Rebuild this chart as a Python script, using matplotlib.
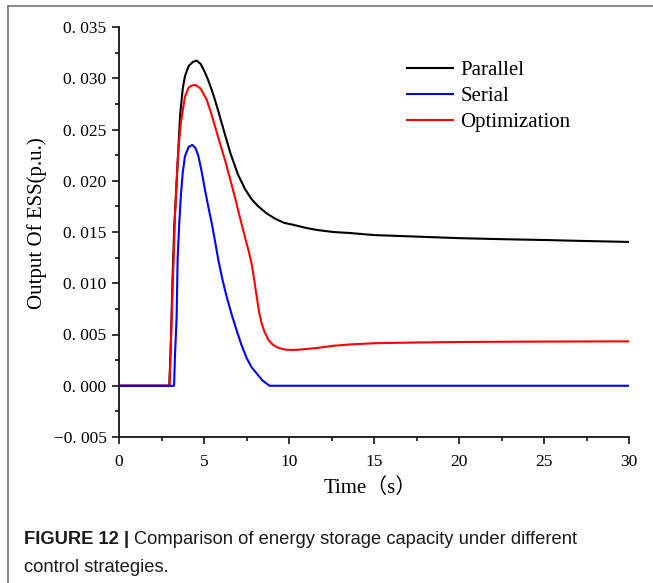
import matplotlib
matplotlib.use("Agg")
import matplotlib.pyplot as plt
from matplotlib.lines import Line2D

# Data
t_parallel = [0, 2.96, 3.05, 3.15, 3.25, 3.39, 3.59, 3.75, 3.88, 4.1, 4.35, 4.57, 4.8, 5.05,
              5.25, 5.55, 5.84, 6.2, 6.57, 7.0, 7.41, 7.8, 8.19, 8.7, 9.18, 9.7, 10.25, 11.0,
              11.63, 12.6, 13.59, 15, 17.5, 20, 22.5, 25, 27.5, 30]
v_parallel = [0, 0, 0.0042, 0.0105, 0.0155, 0.0198, 0.0263, 0.0290, 0.0302, 0.0312, 0.0316,
              0.03172, 0.0314, 0.0306, 0.0298, 0.0284, 0.0268, 0.0247, 0.0226, 0.0206, 0.0192,
              0.0182, 0.0175, 0.0168, 0.0163, 0.0159, 0.0157, 0.0154, 0.0152, 0.0150, 0.0149,
              0.0147, 0.01455, 0.0144, 0.0143, 0.01422, 0.01412, 0.01403]

t_serial = [0, 3.24, 3.29, 3.39, 3.45, 3.55, 3.65, 3.75, 3.88, 4.1, 4.31, 4.5, 4.67, 4.85, 5.06,
            5.25, 5.45, 5.65, 5.84, 6.08, 6.33, 6.62, 6.92, 7.2, 7.51, 7.8, 8.1, 8.45, 8.85, 30]
v_serial = [0, 0, 0.0028, 0.0067, 0.0125, 0.0160, 0.0188, 0.0208, 0.0224, 0.0233, 0.02349,
            0.0232, 0.0224, 0.0210, 0.0191, 0.0175, 0.0159, 0.0141, 0.0123, 0.0104, 0.0087,
            0.0070, 0.0054, 0.0040, 0.0027, 0.0018, 0.0012, 0.0005, 0, 0]

t_optim = [0, 2.96, 3.0, 3.05, 3.1, 3.2, 3.29, 3.39, 3.49, 3.65, 3.88, 4.1, 4.3, 4.51, 4.8, 5.16,
           5.4, 5.65, 5.95, 6.24, 6.53, 6.82, 7.1, 7.41, 7.65, 7.8, 7.95, 8.1, 8.25, 8.39, 8.55,
           8.78, 9.05, 9.37, 9.8, 10.25, 10.8, 11.63, 12.6, 13.59, 15.05, 17.5, 20, 22.4, 25, 30]
v_optim = [0, 0, 0.0015, 0.004, 0.0067, 0.0118, 0.0165, 0.0200, 0.0230, 0.0258, 0.0282, 0.0291,
           0.0293, 0.02934, 0.0290, 0.0279, 0.0267, 0.0253, 0.0236, 0.0220, 0.0202, 0.0184,
           0.0165, 0.0145, 0.0130, 0.0119, 0.0104, 0.0087, 0.0071, 0.0061, 0.0053, 0.0045,
           0.0040, 0.0037, 0.00352, 0.00349, 0.00355, 0.00368, 0.0039, 0.00403, 0.00415,
           0.00422, 0.00427, 0.00429, 0.00431, 0.00433]

x_ticks = [0, 5, 10, 15, 20, 25, 30]
y_ticks = [-0.005, 0.0, 0.005, 0.010, 0.015, 0.020, 0.025, 0.030, 0.035]
y_ticklabels = ["\u22120. 005", "0. 000", "0. 005", "0. 010", "0. 015", "0. 020",
                "0. 025", "0. 030", "0. 035"]
legend_names = ["Parallel", "Serial", "Optimization"]
legend_colors = ["black", "blue", "red"]

serif = ["Liberation Serif", "DejaVu Serif"]
plt.rcParams["font.family"] = serif

W, H = 653, 583
fig = plt.figure(figsize=(W / 100, H / 100), dpi=100)
ax = fig.add_axes([119 / W, 1 - 437 / H, (629 - 119) / W, (437 - 27) / H])

lw = 1.5
ax.plot(t_parallel, v_parallel, color="black", lw=lw, zorder=2)
ax.plot(t_optim, v_optim, color="red", lw=lw, zorder=3)
ax.plot(t_serial, v_serial, color="blue", lw=lw, zorder=4)

ax.set_xlim(0, 30)
ax.set_ylim(-0.005, 0.035)
ax.set_xticks(x_ticks)
ax.set_xticks([2.5 + 5 * i for i in range(6)], minor=True)
ax.set_yticks(y_ticks)
ax.set_yticklabels(y_ticklabels)
ax.set_yticks([-0.0025 + 0.005 * i for i in range(8)], minor=True)
ax.tick_params(which="major", direction="out", length=5, width=1.1, labelsize=12.5, pad=4)
ax.tick_params(axis="x", which="major", pad=7)
ax.tick_params(which="minor", direction="out", length=3, width=1.1)
for s in ["top", "right"]:
    ax.spines[s].set_visible(False)
for s in ["left", "bottom"]:
    ax.spines[s].set_linewidth(1.2)

handles = [Line2D([], [], color=c, lw=lw) for c in legend_colors]
ax.legend(handles, legend_names, loc="upper left", bbox_to_anchor=((399 - 119) / 510, 1 - (52 - 27) / 410),
          frameon=False, fontsize=15, handlelength=2.2, handletextpad=0.35, labelspacing=0.32,
          borderaxespad=0)

fig.text(37 / W, 1 - 223 / H, "Output Of ESS(p.u.)", rotation=90, fontsize=15,
         ha="center", va="center")
fig.text(370 / W, 1 - 488 / H, "Time\uff08s\uff09", fontsize=15, ha="center", va="center",
         family=["Liberation Serif", "Noto Sans CJK SC"])

# page frame lines
fig.add_artist(Line2D([8 / W, 8 / W], [0, 1 - 6 / H], color="#777777", lw=1.2))
fig.add_artist(Line2D([8 / W, 1], [1 - 6 / H, 1 - 6 / H], color="#777777", lw=1.2))

# caption
cap_fs = 13.2
sans = ["Liberation Sans", "DejaVu Sans"]
t1 = fig.text(24 / W, 1 - 540 / H, "FIGURE 12 |", fontsize=cap_fs, fontweight="bold",
              family=sans, va="center", color="#1a1a1a")
fig.canvas.draw()
bb = t1.get_window_extent(renderer=fig.canvas.get_renderer())
fig.text(bb.x1 / W + 5 / W, 1 - 540 / H, "Comparison of energy storage capacity under different",
         fontsize=cap_fs, family=sans, va="center", color="#1a1a1a")
fig.text(24 / W, 1 - 567 / H, "control strategies.", fontsize=cap_fs, family=sans,
         va="center", color="#1a1a1a")

fig.savefig("out.png", dpi=100)
